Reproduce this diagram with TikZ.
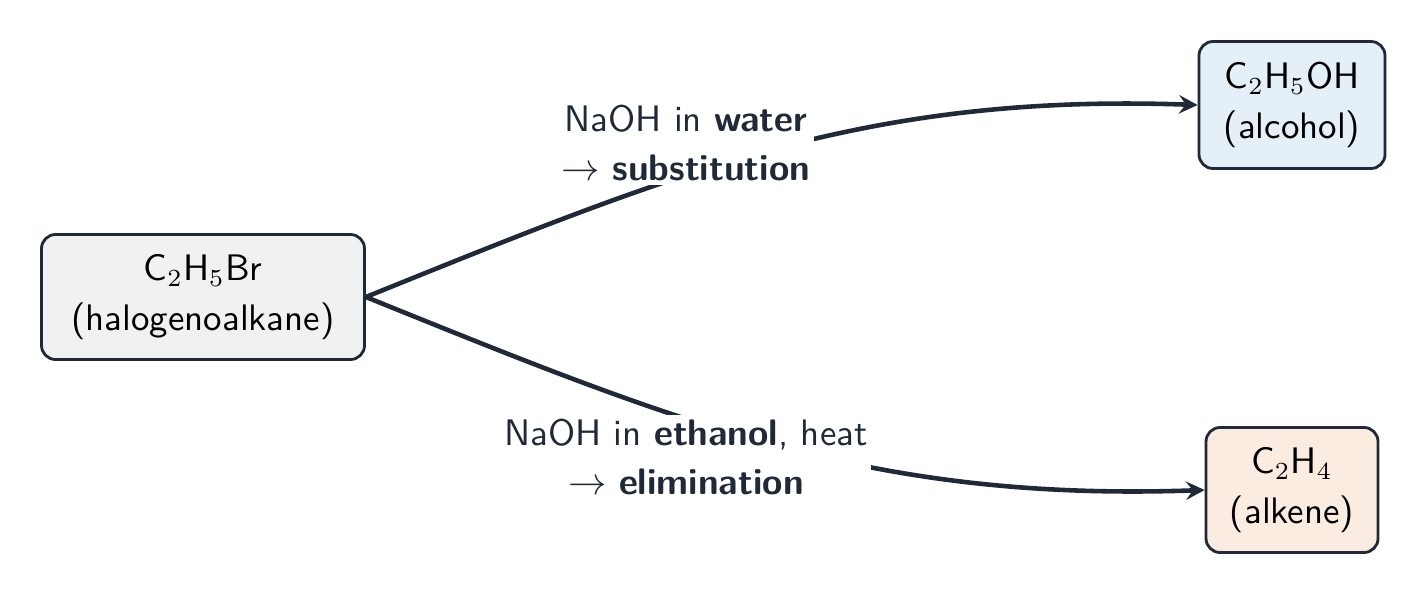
\documentclass[tikz,border=0pt]{standalone}
\usepackage{amsmath}
\definecolor{ink}{HTML}{1F2937}
\definecolor{grayfill}{HTML}{EFF2F1}
\definecolor{bluefill}{HTML}{E4EFF7}
\definecolor{orangefill}{HTML}{FBECE1}
\begin{document}
\begin{tikzpicture}[font=\sffamily\fontsize{10.5}{14}\selectfont,
  compound/.style={draw=ink, line width=0.8pt, rounded corners=4pt, align=center, inner sep=0pt},
  route/.style={draw=ink, line width=1.3pt, -stealth},
  cond/.style={fill=white, text=ink, align=center, inner sep=1pt}]
\useasboundingbox (0,0) rectangle (14.27,5.97);
\node[compound, fill=grayfill, minimum width=3.23cm, minimum height=1.25cm] (halo) at (2.03,3.00) {C$_2$H$_5$Br\\(halogenoalkane)};
\node[compound, fill=bluefill, minimum width=1.86cm, minimum height=1.27cm] (alc) at (12.92,4.92) {C$_2$H$_5$OH\\(alcohol)};
\node[compound, fill=orangefill, minimum width=1.72cm, minimum height=1.25cm] (alk) at (12.92,1.07) {C$_2$H$_4$\\(alkene)};
% substitution
\draw[route] (halo.east) to[out=22,in=178] (alc.west);
\node[cond] (sub) at (6.86,4.54) {NaOH in \textbf{water}\\$\rightarrow$ \textbf{substitution}};
% elimination
\draw[route] (halo.east) to[out=-22,in=182] (alk.west);
\node[cond] (elim) at (6.86,1.40) {NaOH in \textbf{ethanol}, heat\\$\rightarrow$ \textbf{elimination}};
\end{tikzpicture}
\end{document}
